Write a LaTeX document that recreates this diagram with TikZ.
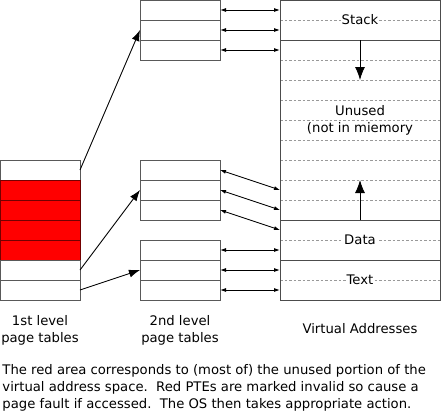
\documentclass[tikz,border=0pt]{standalone}
\usepackage{fontspec}
\setmainfont{DejaVu Sans}
\usetikzlibrary{arrows.meta,positioning}
\tikzset{
  pte/.style     = {draw=gray!70!black, minimum width=80pt, minimum height=20pt,
                    inner sep=0pt, outer sep=0pt},
  badpte/.style  = {pte, fill=red, draw=red!45!black},
  vaslot/.style  = {minimum width=160pt, minimum height=20pt, inner sep=0pt, outer sep=0pt},
  slotline/.style= {gray!80, dashed, dash pattern=on 2.5pt off 2pt},
  segline/.style = {gray!60!black},
  ptrarr/.style  = {-{Latex[length=11pt,width=8pt]}, black},
  maparr/.style  = {{Latex[length=6pt,width=4pt]}-{Latex[length=6pt,width=4pt]}, black},
  growarr/.style = {-{Latex[length=13pt,width=10pt]}, black},
  lbl/.style     = {font=\fontsize{13.2}{17}\selectfont, align=center},
  seglbl/.style  = {lbl, fill=white, inner sep=1pt}
}

\begin{document}
\begin{tikzpicture}[x=1pt,y=-1pt,line width=0.9pt]
  \useasboundingbox (0,0) rectangle (441,415);
  % first level page table, red rows are invalid
  \node[pte] (l1r0) at (40,170) {};
  \foreach \i/\p/\s in {1/0/badpte,2/1/badpte,3/2/badpte,4/3/badpte,5/4/pte,6/5/pte}
    \node[\s, below=0pt of l1r\p] (l1r\i) {};
  % second level page tables
  \foreach \t/\y in {a/10,b/170,c/250}
    { \node[pte] (l2\t0) at (180,\y) {};
      \node[pte, below=0pt of l2\t0] (l2\t1) {};
      \node[pte, below=0pt of l2\t1] (l2\t2) {}; }
  % virtual address space, one slot per page
  \foreach \i in {0,...,14}
    \node[vaslot] (va\i) at (360,{10+20*\i}) {};
  \foreach \i in {1,...,14}
    \draw[slotline] (va\i.north west) -- (va\i.north east);
  \draw[segline] (va0.north west) rectangle (va14.south east);
  \foreach \i in {2,11,13}
    \draw[segline] (va\i.north west) -- (va\i.north east);
  \node[seglbl] (stk) at (va0.south) {Stack};
  \node[lbl] (unused) at (va5.south) {Unused\\(not in miemory};
  \node[seglbl] (data) at (va11.south) {Data};
  \node[seglbl] (text) at (va13.south) {Text};
  \draw[growarr] (va2.north) -- (va3.south);
  \draw[growarr] (va11.north) -- (va9.north);
  % pointers from the first level
  \draw[ptrarr] (l1r0.east) -- (l2a1.west);
  \draw[ptrarr] (l1r5.east) -- (l2b1.west);
  \draw[ptrarr] (l1r6.east) -- (l2c1.west);
  % second level entries to pages
  \foreach \i/\v in {a0/0,a1/1,a2/2,b0/9,b1/10,b2/11,c0/12,c1/13,c2/14}
    \draw[maparr] (l2\i.east) -- (va\v.west);
  % captions
  \node[lbl] (cap1) at (40,330) {1st level\\page tables};
  \node[lbl] (cap2) at (180,330) {2nd level\\page tables};
  \node[lbl] (cap3) at (360,329) {Virtual Addresses};
  \node[lbl, align=left, anchor=north west, inner sep=0pt] (note) at (2,364)
    {The red area corresponds to (most of) the unused portion of the\\
     virtual address space.\ \ Red PTEs are marked invalid so cause a\\
     page fault if accessed.\ \ The OS then takes appropriate action.};
\end{tikzpicture}
\end{document}
